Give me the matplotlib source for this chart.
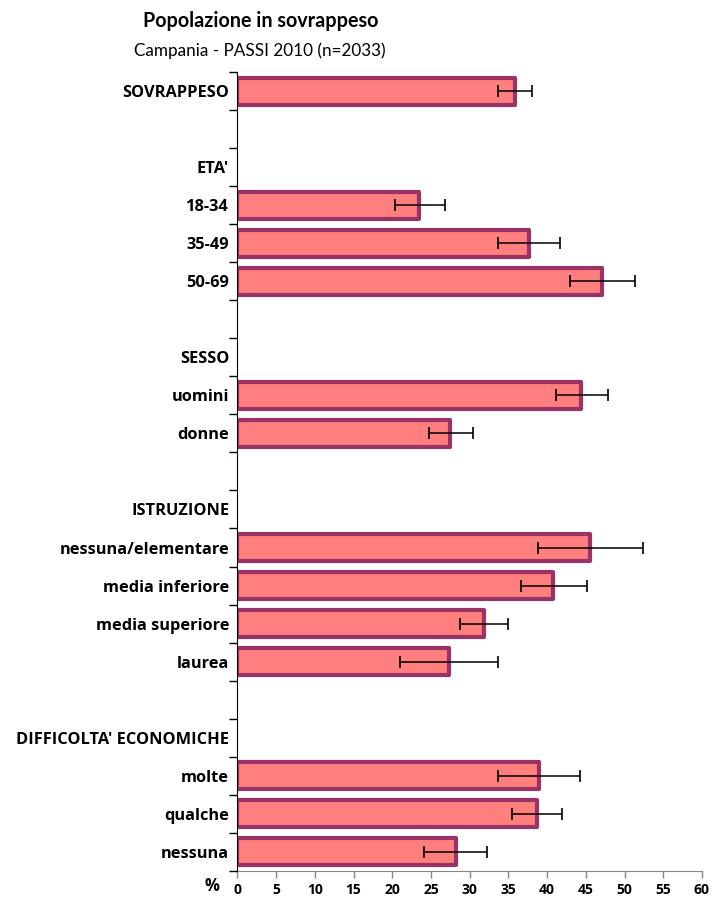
import numpy as np
import matplotlib
matplotlib.use("Agg")
import matplotlib.pyplot as plt

# Rows from top to bottom; headers and spacer rows have no value
categories = ["SOVRAPPESO", "", "ETA'", "18-34", "35-49", "50-69", "",
              "SESSO", "uomini", "donne", "",
              "ISTRUZIONE", "nessuna/elementare", "media inferiore",
              "media superiore", "laurea", "",
              "DIFFICOLTA' ECONOMICHE", "molte", "qualche", "nessuna"]

nan = np.nan
prevalence = [35.8, nan, nan, 23.5, 37.6, 47.1, nan,
              nan, 44.4, 27.5, nan,
              nan, 45.6, 40.8, 31.8, 27.3, nan,
              nan, 38.9, 38.7, 28.2]
ci_low = [33.6, nan, nan, 20.3, 33.6, 42.9, nan,
          nan, 41.2, 24.7, nan,
          nan, 38.8, 36.6, 28.7, 21.0, nan,
          nan, 33.6, 35.5, 24.1]
ci_high = [38.0, nan, nan, 26.8, 41.6, 51.4, nan,
           nan, 47.8, 30.4, nan,
           nan, 52.4, 45.1, 35.0, 33.6, nan,
           nan, 44.2, 41.9, 32.2]
x_ticks = list(range(0, 65, 5))

plt.rcParams['font.family'] = ['Lato', 'DejaVu Sans']
label_font = ['Open Sans', 'DejaVu Sans']

vals = np.array(prevalence)
lo = np.array(ci_low)
hi = np.array(ci_high)
rows = np.arange(len(categories))
has_bar = ~np.isnan(vals)

fig = plt.figure(figsize=(7.17, 9.0), dpi=100)
ax = fig.add_axes([0.3312, 0.0326, 0.979 - 0.3312, 0.9197 - 0.0326])

ax.barh(rows[has_bar], vals[has_bar], height=0.72, color='#FF7F7F',
        edgecolor='#993366', linewidth=3.0, joinstyle='round', zorder=2)
ax.errorbar(vals[has_bar], rows[has_bar],
            xerr=[vals[has_bar] - lo[has_bar], hi[has_bar] - vals[has_bar]],
            fmt='none', ecolor='black', elinewidth=1.1, capsize=4,
            capthick=1.2, zorder=3)

ax.set_xlim(0, 60)
ax.set_ylim(len(categories) - 0.5, -0.5)

# boundary ticks between rows, labels centred on rows
ax.set_yticks(np.arange(len(categories) + 1) - 0.5)
ax.set_yticklabels([])
ax.set_yticks(rows, minor=True)
ax.set_yticklabels(categories, minor=True, fontsize=11.8, fontweight='bold',
                   family=label_font)
ax.tick_params(axis='y', which='major', length=6, width=1, color='black')
ax.tick_params(axis='y', which='minor', length=0, pad=6)

ax.set_xticks(x_ticks)
ax.set_xticklabels([str(t) for t in x_ticks], fontsize=10, fontweight='bold',
                   family=label_font)
ax.tick_params(axis='x', length=5, width=1, color='#868686', pad=4)

for side in ('top', 'right'):
    ax.spines[side].set_visible(False)
ax.spines['left'].set_color('black')
ax.spines['bottom'].set_color('#868686')
ax.spines['left'].set_zorder(4)

fig.text(0.295, 0.0155, '%', fontsize=12, fontweight='bold', ha='center',
         va='center', family=label_font)

fig.text(0.363, 0.977, 'Popolazione in sovrappeso', fontsize=14.2,
         fontweight='bold', ha='center', va='center')
fig.text(0.362, 0.944, 'Campania - PASSI 2010 (n=2033)', fontsize=12.3,
         ha='center', va='center')

fig.savefig('out.png', dpi=100)
